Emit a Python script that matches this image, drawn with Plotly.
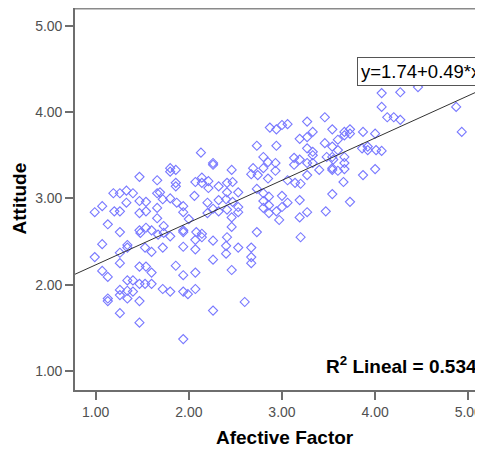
import plotly.graph_objects as go

# scatter values
afective = [
    0.99, 1.07, 1.13, 1.19, 1.26, 1.33, 1.40, 1.47, 1.66, 1.66, 1.20, 1.26, 1.33, 1.47, 1.54, 1.47, 1.54, 1.66,
    1.26, 1.47, 1.48, 1.54, 1.60, 1.67, 1.07, 1.34, 1.34, 1.53, 1.60, 0.99, 1.26, 1.26, 1.07, 1.13, 1.47, 1.54,
    1.60, 1.34, 1.40, 1.47, 1.53, 1.60, 1.26, 1.34, 1.40, 1.26, 1.34, 1.47, 1.13, 1.13, 1.26, 1.47,
    1.72, 1.72, 1.80, 1.86, 1.94, 1.94, 1.99, 2.07, 2.07, 1.94, 2.07, 2.26, 2.26, 1.94, 1.80, 1.80, 1.86, 2.26,
    2.26, 2.13, 1.69, 1.86, 1.86, 2.07, 2.14, 2.14, 2.21, 2.21, 1.72, 1.80, 1.87, 1.94, 1.94, 1.66, 2.06, 2.20,
    2.32, 2.26, 2.00, 1.73, 1.73, 1.80, 1.94, 1.94, 2.08, 2.14, 2.07, 2.14, 2.26, 2.20, 2.32, 2.32,
    2.41, 2.41, 2.47, 2.53, 2.46, 2.40, 2.47, 2.53, 2.46, 2.53, 2.41, 2.46, 2.41, 2.73, 2.40, 2.40, 2.53, 2.67,
    2.67, 2.67, 2.46, 2.60, 2.73, 2.80, 2.86, 2.80, 2.80, 2.86, 2.86, 2.94, 2.80, 2.85, 2.93, 2.69, 2.80, 2.93,
    2.74, 2.67, 2.73, 2.94, 2.85, 2.87, 2.94, 2.97,
    3.00, 3.06, 3.27, 3.33, 3.27, 3.19, 3.46, 3.54, 3.60, 3.46, 3.54, 3.27, 3.33, 3.33, 3.60, 3.48, 3.54, 3.55,
    3.13, 3.19, 3.27, 3.33, 3.13, 3.40, 3.54, 3.54, 3.60, 3.06, 3.14, 3.20, 3.27, 3.00, 3.06, 3.00, 3.19, 3.27,
    3.19, 3.20, 3.54, 3.47,
    3.67, 3.73, 3.73, 3.67, 3.87, 4.00, 3.86, 3.92, 3.92, 4.01, 4.07, 3.67, 3.67, 3.66, 3.87, 4.00, 4.07, 4.27,
    4.46, 4.07, 4.13, 4.20, 4.27, 4.87, 4.93, 3.73, 3.67,
]
attitude = [
    2.84, 2.91, 2.70, 3.06, 3.06, 3.09, 3.06, 3.25, 3.21, 3.06, 2.85, 2.85, 2.95, 2.97, 2.96, 2.83, 2.85, 2.89,
    2.61, 2.63, 2.60, 2.66, 2.63, 2.58, 2.47, 2.46, 2.43, 2.43, 2.38, 2.32, 2.37, 2.25, 2.16, 2.09, 2.21, 2.21,
    2.14, 2.05, 2.05, 2.01, 2.01, 2.01, 1.94, 1.93, 1.92, 1.88, 1.84, 1.81, 1.84, 1.81, 1.67, 1.56,
    2.43, 1.95, 1.92, 2.22, 2.11, 1.92, 1.89, 1.95, 2.14, 2.44, 2.41, 2.29, 1.70, 1.37, 3.35, 3.31, 3.33, 3.41,
    3.39, 3.53, 3.07, 3.18, 3.14, 3.19, 3.24, 3.18, 3.20, 3.12, 2.99, 3.00, 2.95, 2.91, 2.84, 2.77, 3.03, 2.95,
    2.98, 2.88, 2.76, 2.68, 2.60, 2.56, 2.63, 2.61, 2.61, 2.59, 2.52, 2.55, 2.51, 2.83, 2.85, 3.14,
    3.18, 3.07, 3.19, 3.07, 3.33, 2.99, 2.96, 2.90, 2.78, 2.84, 2.87, 2.67, 2.55, 2.61, 2.45, 2.36, 2.43, 2.43,
    2.32, 2.25, 2.17, 1.80, 3.11, 3.06, 3.02, 2.97, 2.89, 2.92, 2.83, 2.85, 3.48, 3.42, 3.41, 3.35, 3.35, 3.32,
    3.27, 3.28, 3.61, 3.61, 3.23, 3.82, 3.80, 2.75,
    3.85, 3.86, 3.89, 3.77, 3.71, 3.69, 3.94, 3.80, 3.68, 3.64, 3.60, 3.58, 3.54, 3.50, 3.56, 3.48, 3.48, 3.45,
    3.47, 3.45, 3.41, 3.41, 3.39, 3.33, 3.35, 3.33, 3.32, 3.21, 3.18, 3.17, 3.27, 3.03, 2.95, 2.90, 2.98, 2.84,
    2.78, 2.55, 3.05, 2.85,
    3.77, 3.80, 3.75, 3.73, 3.77, 3.75, 3.58, 3.60, 3.56, 3.56, 3.55, 3.48, 3.41, 3.19, 3.27, 3.34, 4.22, 4.23,
    4.29, 4.06, 3.94, 3.94, 3.91, 4.06, 3.77, 2.96, 3.34,
]

# fit shown on the chart
intercept = 1.74
slope = 0.49
r2 = 0.534

tick_vals = [1, 2, 3, 4, 5]
tick_text = ["1.00", "2.00", "3.00", "4.00", "5.00"]

x_range = [0.778, 5.158]
y_range = [0.780, 5.206]

# page body has an 8px margin, so the figure is drawn 8px in from the top-left
OFF = 8
W, H = 483 - OFF, 451 - OFF
L, R, T, B = 75 - OFF, 0, 0, 61
pw, ph = W - L - R, H - T - B

def px(x):  # page pixel -> paper
    return (x - OFF - L) / pw

def py(y):
    return (H - B - (y - OFF)) / ph

axis_col = "#6e6e6e"
font = "Liberation Sans, Arial, sans-serif"

fig = go.Figure()
fig.add_trace(go.Scatter(
    x=afective, y=attitude, mode="markers",
    marker=dict(symbol="diamond-open", size=7, color="#7878ff", line=dict(width=1.1)),
    showlegend=False, hoverinfo="skip",
))
fig.add_trace(go.Scatter(
    x=x_range, y=[intercept + slope * v for v in x_range], mode="lines",
    line=dict(color="#333333", width=1), showlegend=False, hoverinfo="skip",
))

axis = dict(
    showgrid=False, zeroline=False, showline=True, linecolor=axis_col, linewidth=1.6,
    ticks="outside", ticklen=8, tickwidth=1.6, tickcolor=axis_col,
    tickvals=tick_vals, ticktext=tick_text,
    tickfont=dict(family=font, size=14, color="#505050"),
)
fig.update_xaxes(range=x_range, **axis)
fig.update_yaxes(range=y_range, **axis)

# top frame line
fig.add_shape(type="line", xref="paper", yref="paper", x0=0, x1=1, y0=0.998, y1=0.998,
              line=dict(color="#8a8a8a", width=1.6))

fig.add_annotation(text="y=1.74+0.49*x", xref="paper", yref="paper",
                   x=px(357), y=py(72), xanchor="left", yanchor="middle", showarrow=False,
                   font=dict(family=font, size=18.5, color="#000000"),
                   bgcolor="white", bordercolor="#555555", borderwidth=1, borderpad=3)
fig.add_annotation(text=f"R<sup>2</sup> Lineal = {r2}", xref="paper", yref="paper",
                   x=px(479), y=py(365), xanchor="right", yanchor="middle", showarrow=False,
                   font=dict(family=font, size=19, color="#000000", weight="bold"))
fig.add_annotation(text="Attitude", xref="paper", yref="paper", textangle=-90,
                   x=px(18.5), y=py(199), xanchor="center", yanchor="middle", showarrow=False,
                   font=dict(family=font, size=19, color="#000000", weight="bold"))
fig.add_annotation(text="Afective Factor", xref="paper", yref="paper",
                   x=px(285), y=py(437), xanchor="center", yanchor="middle", showarrow=False,
                   font=dict(family=font, size=19, color="#000000", weight="bold"))

fig.update_layout(
    width=W, height=H, autosize=False,
    margin=dict(l=L, r=R, t=T, b=B),
    plot_bgcolor="white", paper_bgcolor="white",
)
fig.write_html("out.html")
